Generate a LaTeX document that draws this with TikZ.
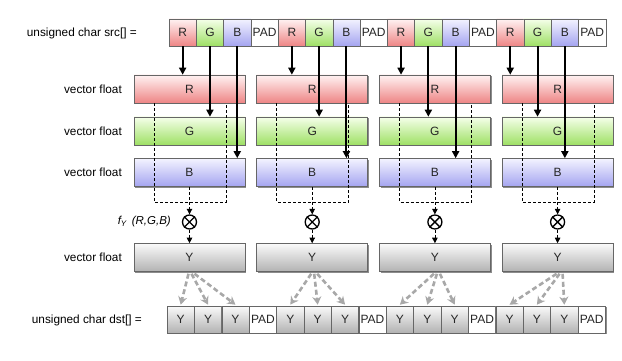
\documentclass[tikz,border=0pt]{standalone}
\usepackage{fontspec}
\setmainfont{Liberation Sans}
\usetikzlibrary{arrows.meta,shadows,calc}
\definecolor{rtop}{HTML}{FFF2F2}
\definecolor{rbot}{HTML}{EE8585}
\definecolor{gtop}{HTML}{F5FFEA}
\definecolor{gbot}{HTML}{9EE064}
\definecolor{btop}{HTML}{F3F3FF}
\definecolor{bbot}{HTML}{A4A4F0}
\definecolor{ytop}{HTML}{FAFAFA}
\definecolor{ybot}{HTML}{B2B2B2}
\definecolor{edge}{HTML}{666666}
\definecolor{garrow}{HTML}{A8A8A8}
\tikzset{
  txt/.style={font=\fontsize{12}{14}\selectfont, text=black!85},
  shad/.style={drop shadow={shadow xshift=1.3pt, shadow yshift=-1.3pt, opacity=0.45, fill=black}},
  cellbox/.style={txt, draw=edge, line width=0.6pt, minimum width=27.3pt, minimum height=27pt, inner sep=0pt, shad},
  vbox/.style={txt, draw=edge, line width=0.6pt, minimum width=111pt, minimum height=28pt, inner sep=0pt, shad},
  redf/.style={top color=rtop, bottom color=rbot},
  grnf/.style={top color=gtop, bottom color=gbot},
  bluf/.style={top color=btop, bottom color=bbot},
  gryf/.style={top color=ytop, bottom color=ybot},
  padf/.style={fill=white},
  lbl/.style={font=\fontsize{11.8}{14}\selectfont, anchor=east, inner sep=0pt},
  solidarrow/.style={line width=2pt, -{Triangle[length=7pt,width=7pt]}},
  thindash/.style={line width=0.7pt, dash pattern=on 3pt off 2pt},
  dasharrow/.style={thindash, -{Triangle[length=5.5pt,width=5.5pt]}},
  grayarrow/.style={draw=garrow, line width=2.6pt, dash pattern=on 5pt off 3pt, -{Stealth[length=8pt,width=9pt]}},
  mult/.style={circle, draw, line width=1.3pt, minimum size=14pt, inner sep=0pt, fill=white}
}
\begin{document}
\begin{tikzpicture}[x=1pt, y=-1pt]
\useasboundingbox (0,0) rectangle (622,361);
% labels
\node[lbl] (lsrc) at (137,33) {unsigned char src[] =};
\node[lbl] (lv1) at (122,89) {vector float};
\node[lbl] (lv2) at (122,131) {vector float};
\node[lbl] (lv3) at (122,172.5) {vector float};
\node[lbl] (lv4) at (122,257.5) {vector float};
\node[lbl] (ldst) at (142,320) {unsigned char dst[] =};
\node[lbl, font=\fontsize{11.5}{13}\selectfont\itshape] (lf) at (171,222) {f\textsubscript{Y}\hspace{5pt}(R,G,B)};
\foreach \c in {0,1,2,3} {
  \pgfmathsetmacro\sx{169+27.3*4*\c}
  \pgfmathsetmacro\dx{167+27.4*4*\c}
  \pgfmathsetmacro\vx{189.5+122.7*\c}
  % source cells
  \node[cellbox, redf] (sR\c) at ({\sx+13.65},32.5) {R};
  \node[cellbox, grnf] (sG\c) at ({\sx+40.95},32.5) {G};
  \node[cellbox, bluf] (sB\c) at ({\sx+68.25},32.5) {B};
  \node[cellbox, padf] (sP\c) at ({\sx+95.55},32.5) {PAD};
  % vector boxes
  \node[vbox, redf] (vR\c) at (\vx,89) {R};
  \node[vbox, grnf] (vG\c) at (\vx,131) {G};
  \node[vbox, bluf] (vB\c) at (\vx,172.5) {B};
  \node[vbox, gryf] (vY\c) at (\vx,257.5) {Y};
  % destination cells
  \node[cellbox, gryf] (dA\c) at ({\dx+13.7},319.5) {Y};
  \node[cellbox, gryf] (dB\c) at ({\dx+41.1},319.5) {Y};
  \node[cellbox, gryf] (dC\c) at ({\dx+68.5},319.5) {Y};
  \node[cellbox, padf] (dP\c) at ({\dx+95.9},319.5) {PAD};
  % dashed bracket
  \coordinate (dl\c) at ({\vx-35.5},202);
  \coordinate (dr\c) at ({\vx+36.5},202);
  \draw[thindash] (vR\c.south -| dl\c) -- (dl\c) -- (dr\c) -- (vR\c.south -| dr\c);
  % multiply
  \node[mult] (o\c) at (\vx,222) {};
  \draw[line width=1.3pt] (o\c.45) -- (o\c.225) (o\c.135) -- (o\c.315);
  \draw[dasharrow] (vB\c.south) -- (o\c.north);
  \draw[dasharrow] (o\c.south) -- (vY\c.north);
  % solid arrows
  \draw[solidarrow] (sR\c.south) -- (sR\c.south |- vR\c.north);
  \draw[solidarrow] (sG\c.south) -- (sG\c.south |- vG\c.north);
  \draw[solidarrow] (sB\c.south) -- (sB\c.south |- vB\c.north);
  % gray arrows
  \draw[grayarrow] ($(vY\c.south)+(-1,2)$) -- ($(dA\c.north)+(0,-1)$);
  \draw[grayarrow] ($(vY\c.south)+(2,2)$) -- ($(dB\c.north)+(0,-1)$);
  \draw[grayarrow] ($(vY\c.south)+(5,2)$) -- ($(dC\c.north)+(0,-1)$);
}
\end{tikzpicture}
\end{document}
